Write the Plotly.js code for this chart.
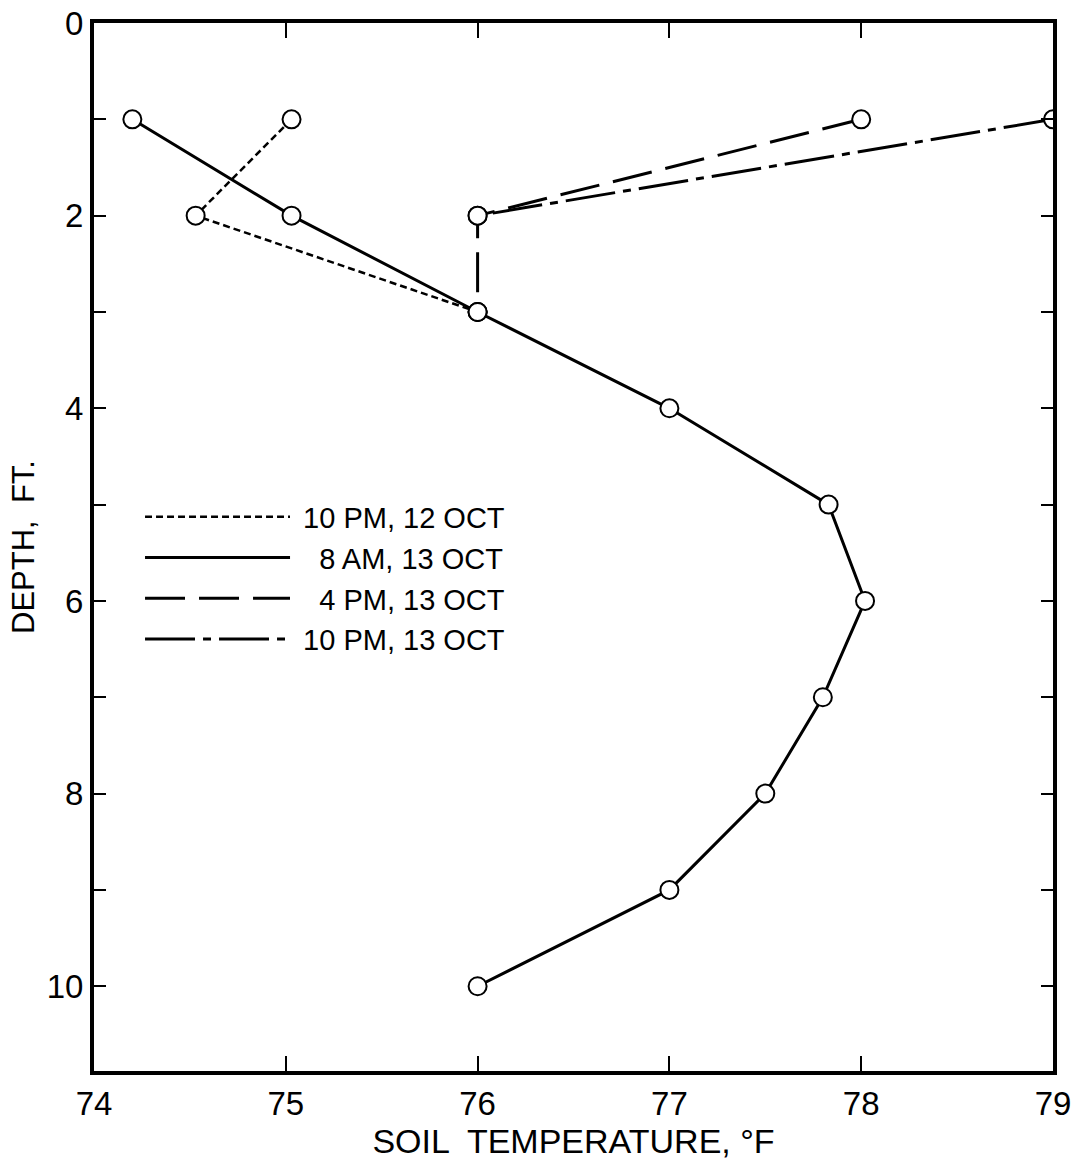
<!DOCTYPE html>
<html>
<head>
<meta charset="utf-8">
<script src="https://cdn.plot.ly/plotly-3.0.1.min.js"></script>
<style>html,body{margin:0;padding:0;background:#fff;}#chart{width:1076px;height:1173px;}</style>
</head>
<body>
<div id="chart"></div>
<script>
// Series data: soil temperature (°F) vs depth (ft)
const names = ["\u00a010 PM, 12 OCT", "\u00a0\u00a0\u00a08 AM, 13 OCT", "\u00a0\u00a0\u00a04 PM, 13 OCT", "\u00a010 PM, 13 OCT"];
const depth_pm12 = [1, 2, 3];
const temp_pm12 = [75.03, 74.53, 76.0];
const depth_am13 = [1, 2, 3, 4, 5, 6, 7, 8, 9, 10];
const temp_am13 = [74.2, 75.03, 76.0, 77.0, 77.83, 78.02, 77.8, 77.5, 77.0, 76.0];
const depth_4pm13 = [1, 2, 3];
const temp_4pm13 = [78.0, 76.0, 76.0];
const depth_10pm13 = [1, 2];
const temp_10pm13 = [79.0, 76.0];
const xTicks = [74, 75, 76, 77, 78, 79];
const yTicks = [0, 1, 2, 3, 4, 5, 6, 7, 8, 9, 10];
const yTickText = ["0", "", "2", "", "4", "", "6", "", "8", "", "10"];

const FONT = "Liberation Sans, Arial, sans-serif";
const marker = {symbol: "circle", size: 18, color: "#ffffff", line: {color: "#000", width: 2}};
const dashes = ["7px,4px", "solid", "40px,14px", "50px,8px,8px,8px"];
const widths = [2.5, 3, 3, 3];
const series = [[temp_pm12, depth_pm12], [temp_am13, depth_am13], [temp_4pm13, depth_4pm13], [temp_10pm13, depth_10pm13]];

const traces = [];
series.forEach((s, i) => {
  traces.push({x: s[0], y: s[1], mode: "lines", line: {color: "#000", width: widths[i], dash: dashes[i]}, showlegend: false, hoverinfo: "skip"});
});
series.forEach((s, i) => {
  traces.push({x: s[0], y: s[1], mode: "markers", marker: marker, showlegend: false, hoverinfo: "skip"});
});
names.forEach((n, i) => {
  traces.push({x: [null], y: [null], mode: "lines", name: n, line: {color: "#000", width: widths[i], dash: dashes[i]}, showlegend: true});
});

const layout = {
  width: 1076, height: 1173,
  margin: {l: 94, r: 23, t: 23, b: 102},
  paper_bgcolor: "#fff", plot_bgcolor: "#fff",
  font: {family: FONT, color: "#000", size: 32},
  showlegend: true,
  legend: {x: 0.048, y: 0.553, xanchor: "left", yanchor: "top", bgcolor: "rgba(0,0,0,0)", itemwidth: 145, font: {size: 29, family: FONT}, tracegroupgap: 0},
  xaxis: {
    range: [74, 79], tickvals: xTicks, ticktext: xTicks.map(String),
    ticks: "inside", ticklen: 15, tickwidth: 2, tickcolor: "#000",
    showline: true, linewidth: 4, linecolor: "#000", mirror: "ticks",
    showgrid: false, zeroline: false, tickfont: {size: 33, family: FONT},
    title: {text: "SOIL  TEMPERATURE, °F", font: {size: 34, family: FONT}, standoff: 0}
  },
  yaxis: {
    range: [10.88, 0], tickvals: yTicks, ticktext: yTickText,
    ticks: "inside", ticklen: 12, tickwidth: 2, tickcolor: "#000",
    showline: true, linewidth: 4, linecolor: "#000", mirror: "ticks",
    showgrid: false, zeroline: false, tickfont: {size: 33, family: FONT},
    title: {text: "DEPTH,  FT.", font: {size: 31, family: FONT}, standoff: 4}
  }
};

Plotly.newPlot("chart", traces, layout, {staticPlot: true, displayModeBar: false});
</script>
</body>
</html>
